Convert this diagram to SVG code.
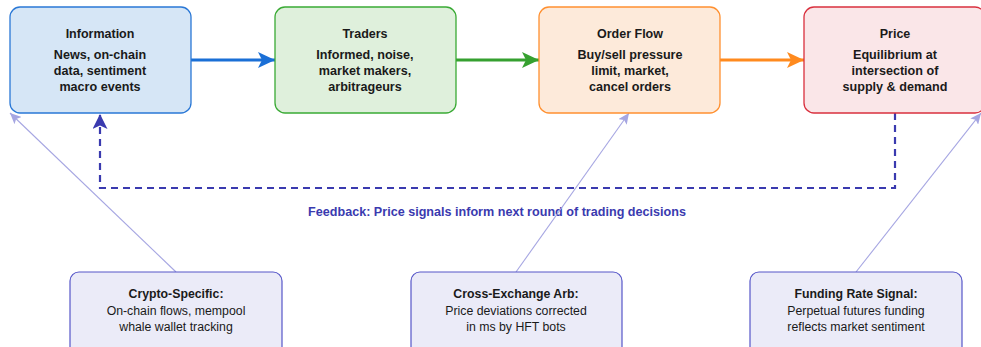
<svg xmlns="http://www.w3.org/2000/svg" width="981" height="347" viewBox="0 0 981 347">
<style>
text{font-family:"Liberation Sans",Arial,sans-serif;text-anchor:middle;fill:#1a1a1a}
.t{font-weight:bold;font-size:12.5px}
.b{font-weight:bold;font-size:12.6px}
.s{font-size:12.3px}
.st{font-size:12.3px;font-weight:bold}
.box{stroke-width:1.3}
.bot{fill:#ebebf8;stroke:#5656c8;stroke-width:1.2}
.lt{stroke:#a6a6e2;stroke-width:1.1;fill:none}
.fb{stroke:#3a3aaf;stroke-width:2.2;fill:none;stroke-dasharray:7,5}
</style>
<defs>
<marker id="ab" markerWidth="18" markerHeight="16" refX="17" refY="8" orient="auto" markerUnits="userSpaceOnUse"><path d="M0,0 L17,8 L0,16 L4,8 Z" fill="#1a6fd6"/></marker>
<marker id="ag" markerWidth="18" markerHeight="16" refX="17" refY="8" orient="auto" markerUnits="userSpaceOnUse"><path d="M0,0 L17,8 L0,16 L4,8 Z" fill="#35a02f"/></marker>
<marker id="ao" markerWidth="18" markerHeight="16" refX="17" refY="8" orient="auto" markerUnits="userSpaceOnUse"><path d="M0,0 L17,8 L0,16 L4,8 Z" fill="#ff8a1e"/></marker>
<marker id="af" markerWidth="16" markerHeight="16" refX="15" refY="7.5" orient="auto" markerUnits="userSpaceOnUse"><path d="M0,0 L15,7.5 L0,15 L3.5,7.5 Z" fill="#3a3aaf"/></marker>
<marker id="al" markerWidth="12" markerHeight="10" refX="11" refY="5" orient="auto" markerUnits="userSpaceOnUse"><path d="M0,0 L11,5 L0,10 L2.5,5 Z" fill="#a6a6e2"/></marker>
</defs>
<g id="connectors">
<line x1="191" y1="60" x2="275" y2="60" stroke="#1a6fd6" stroke-width="3" marker-end="url(#ab)"/>
<line x1="456" y1="60" x2="539" y2="60" stroke="#35a02f" stroke-width="3" marker-end="url(#ag)"/>
<line x1="720" y1="60" x2="804" y2="60" stroke="#ff8a1e" stroke-width="3" marker-end="url(#ao)"/>
<path class="fb" d="M895,113 V188 H100 V114" marker-end="url(#af)"/>
<text x="497" y="216" style="font-size:12.6px;font-weight:bold;fill:#3a3aaf">Feedback: Price signals inform next round of trading decisions</text>
<line class="lt" x1="176" y1="272" x2="10" y2="113" marker-end="url(#al)"/>
<line class="lt" x1="516" y1="272" x2="629" y2="113" marker-end="url(#al)"/>
<line class="lt" x1="856" y1="272" x2="981" y2="113" marker-end="url(#al)"/>
</g>
<g id="information">
<rect class="box" x="10" y="7" width="181" height="106" rx="10" fill="#d6e6f6" stroke="#2a78d6"/>
<text class="t" x="100" y="38">Information</text>
<text class="b" x="100" y="59">News, on-chain</text>
<text class="b" x="100" y="75">data, sentiment</text>
<text class="b" x="100" y="91">macro events</text>
</g>
<g id="traders">
<rect class="box" x="275" y="7" width="181" height="106" rx="10" fill="#dff0dc" stroke="#3aaa35"/>
<text class="t" x="365" y="38">Traders</text>
<text class="b" x="365" y="59">Informed, noise,</text>
<text class="b" x="365" y="75">market makers,</text>
<text class="b" x="365" y="91">arbitrageurs</text>
</g>
<g id="orderflow">
<rect class="box" x="539" y="7" width="181" height="106" rx="10" fill="#fdeada" stroke="#ff9030"/>
<text class="t" x="630" y="38">Order Flow</text>
<text class="b" x="630" y="59">Buy/sell pressure</text>
<text class="b" x="630" y="75">limit, market,</text>
<text class="b" x="630" y="91">cancel orders</text>
</g>
<g id="price">
<rect class="box" x="804" y="7" width="181" height="106" rx="10" fill="#fae6e8" stroke="#d9303e"/>
<text class="t" x="895" y="38">Price</text>
<text class="b" x="895" y="59">Equilibrium at</text>
<text class="b" x="895" y="75">intersection of</text>
<text class="b" x="895" y="91">supply &amp; demand</text>
</g>
<g id="crypto">
<rect class="bot" x="70" y="272" width="212" height="85" rx="9"/>
<text class="st" x="176" y="298">Crypto-Specific:</text>
<text class="s" x="176" y="315">On-chain flows, mempool</text>
<text class="s" x="176" y="331">whale wallet tracking</text>
</g>
<g id="crossexchange">
<rect class="bot" x="411" y="272" width="211" height="85" rx="9"/>
<text class="st" x="516" y="298">Cross-Exchange Arb:</text>
<text class="s" x="516" y="315">Price deviations corrected</text>
<text class="s" x="516" y="331">in ms by HFT bots</text>
</g>
<g id="funding">
<rect class="bot" x="750" y="272" width="212" height="85" rx="9"/>
<text class="st" x="856" y="298">Funding Rate Signal:</text>
<text class="s" x="856" y="315">Perpetual futures funding</text>
<text class="s" x="856" y="331">reflects market sentiment</text>
</g>
</svg>
